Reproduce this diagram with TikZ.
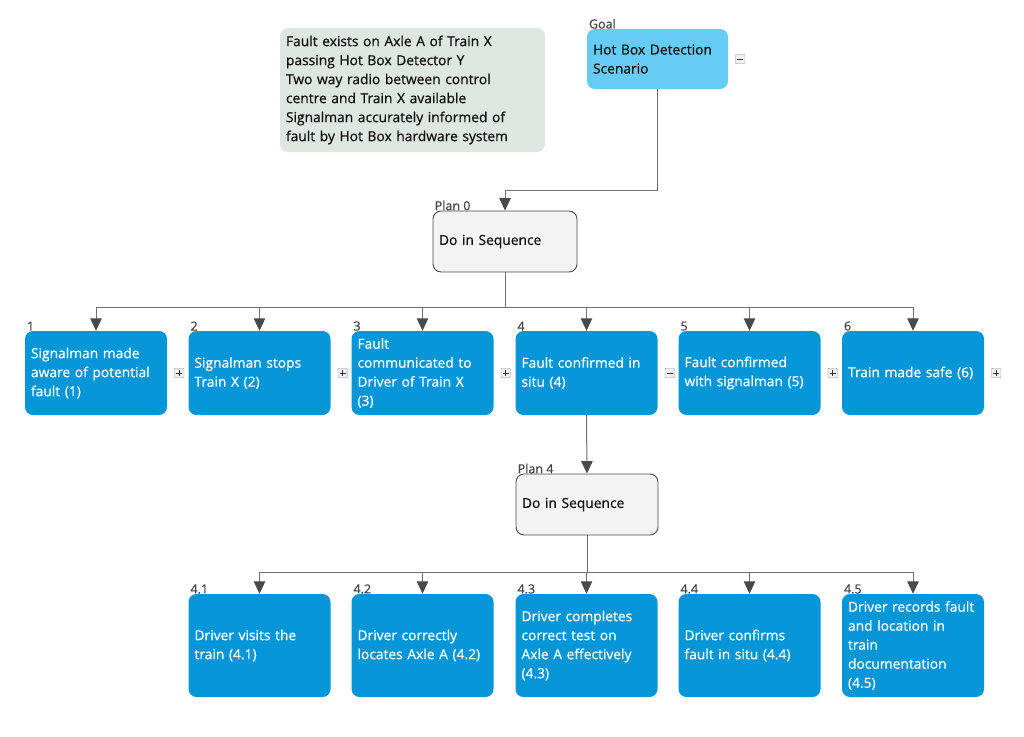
\documentclass[tikz,border=0pt]{standalone}
\usepackage{fontspec}
\setmainfont{Open Sans}[FakeBold=0.6]
\usetikzlibrary{arrows.meta}
\definecolor{taskc}{HTML}{0596D8}
\definecolor{goalc}{HTML}{66CCF5}
\definecolor{notec}{HTML}{DDE6DF}
\definecolor{planc}{HTML}{F3F3F3}
\definecolor{linec}{HTML}{6E6E6E}
\definecolor{tipc}{HTML}{4A4A4A}
\definecolor{lblc}{HTML}{444444}
\definecolor{txtc}{HTML}{111111}
\newcommand\pmicon[3]{%
  \node[pm] (#1) at ([xshift=12pt]#2.east) {};
  \draw[pmline] ([xshift=-2.8pt]#1.center) -- ([xshift=2.8pt]#1.center);
  \ifx#3p\draw[pmline] ([yshift=-2.8pt]#1.center) -- ([yshift=2.8pt]#1.center);\fi
}
\begin{document}
\begin{tikzpicture}[x=1pt,y=-1pt,
  txt/.style={font=\fontsize{13.8}{19}\selectfont},
  box/.style={txt, rounded corners=8pt, inner sep=6pt, align=left},
  task/.style={box, fill=taskc, text=white, minimum width=142pt, text width=130pt},
  row1/.style={task, minimum height=84pt},
  row2/.style={task, minimum height=103pt},
  plan/.style={box, fill=planc, draw=tipc, line width=0.9pt, text=txtc, text width=130pt},
  lbl/.style={label={[anchor=south west, inner sep=1pt, xshift=1pt, yshift=-1pt, text=lblc, font=\fontsize{12.5}{13}\selectfont]north west:#1}},
  conn/.style={draw=linec, line width=1pt},
  arr/.style={conn, -{Triangle[width=11.5pt,length=12.5pt,fill=tipc,color=tipc]}},
  pm/.style={draw=gray!85, fill=gray!12, minimum size=9.5pt, inner sep=0pt, rounded corners=1pt},
  pmline/.style={draw=black!80, line width=0.9pt},
]
\useasboundingbox (0,0) rectangle (1024,736);
\fill[white] (0,0) rectangle (1024,736);

% note
\node[box, fill=notec, text=txtc, minimum width=265pt, minimum height=124pt, text width=253pt] (note) at (412.5,90)
 {Fault exists on Axle A of Train X\\passing Hot Box Detector Y\\Two way radio between control\\centre and Train X available\\Signalman accurately informed of\\fault by Hot Box hardware system};

% goal
\node[box, fill=goalc, text=txtc, minimum width=141pt, minimum height=60pt, text width=129pt, lbl=Goal] (goal) at (657.5,59)
 {Hot Box Detection\\Scenario};
\pmicon{ig}{goal}{m}

% plan 0
\node[plan, minimum width=144pt, minimum height=61pt, text width=132pt, lbl=Plan 0] (plan0) at (505,241.5) {Do in Sequence};

% row 1
\node[row1, lbl=1] (t1) at (96,373) {Signalman made\\aware of potential\\fault (1)};
\node[row1, lbl=2] (t2) at (259.5,373) {Signalman stops\\Train X (2)};
\node[row1, lbl=3] (t3) at (422.5,373) {Fault\\communicated to\\Driver of Train X\\(3)};
\node[row1, lbl=4] (t4) at (586.5,373) {Fault confirmed in\\situ (4)};
\node[row1, lbl=5] (t5) at (749.5,373) {Fault confirmed\\with signalman (5)};
\node[row1, lbl=6] (t6) at (913,373) {Train made safe (6)};
\pmicon{i1}{t1}{p}
\pmicon{i2}{t2}{p}
\pmicon{i3}{t3}{p}
\pmicon{i4}{t4}{m}
\pmicon{i5}{t5}{p}
\pmicon{i6}{t6}{p}

% plan 4
\node[plan, minimum width=142pt, minimum height=61pt, text width=130pt, lbl=Plan 4] (plan4) at (587,504.5) {Do in Sequence};

% row 2
\node[row2, lbl=4.1] (s1) at (259.5,645.5) {Driver visits the\\train (4.1)};
\node[row2, lbl=4.2] (s2) at (422.5,645.5) {Driver correctly\\locates Axle A (4.2)};
\node[row2, lbl=4.3] (s3) at (586.5,645.5) {Driver completes\\correct test on\\Axle A effectively\\(4.3)};
\node[row2, lbl=4.4] (s4) at (749.5,645.5) {Driver confirms\\fault in situ (4.4)};
\node[row2, lbl=4.5] (s5) at (913,645.5) {Driver records fault\\and location in\\train\\documentation\\(4.5)};

% bus coordinates
\coordinate (b0) at (0,190);
\coordinate (b1) at (0,307);
\coordinate (b2) at (0,572);

% connectors
\draw[arr] (goal.south) -- (goal.south |- b0) -| (plan0.north);
\foreach \t in {t1,t2,t3,t4,t5,t6}
  \draw[arr] (plan0.south) -- (plan0.south |- b1) -| (\t.north);
\draw[arr] (t4.south) -- (plan4.north);
\foreach \t in {s1,s2,s3,s4,s5}
  \draw[arr] (plan4.south) -- (plan4.south |- b2) -| (\t.north);
\end{tikzpicture}
\end{document}
